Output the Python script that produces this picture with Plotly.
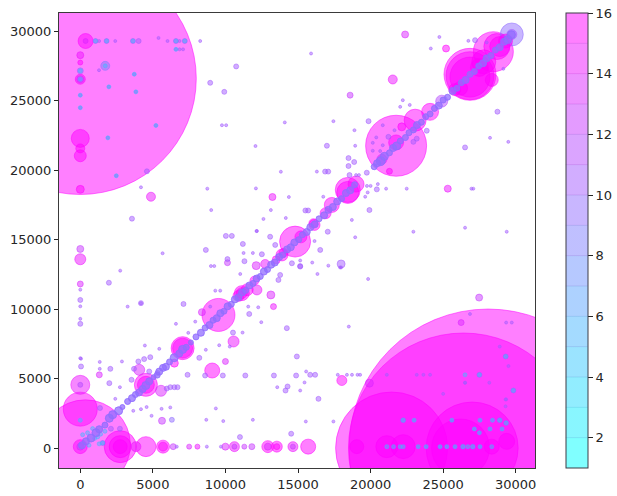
import plotly.graph_objects as go

# big bubbles, drawn first
big_x = [28100, 26400, 21450, 27000, 26200, 0, 350, 0]
big_y = [0, 0, 0, 0, 0, 26600, 230, 2800]
big_size = [278, 230, 112, 92, 58, 232, 90, 34]
big_value = [16, 16, 16, 16, 16, 16, 16, 16]

# medium bubbles
mid_x = [2750, 2750, 2750, 4520, 5700, 5700, 3830, 0, 0, 6400, 7500, 8070, 10000, 10620, 10620, 11820, 11300,
         12920, 12920, 13540, 13540, 14650, 14650, 15700, 19050, 21120, 22250, 28350, 29380,
         0, 0, 0, 0, 0, 9090, 18020, 10560, 10000, 10140, 12120, 12740, 13130, 13310, 12170, 11130, 11130,
         4520, 4520, 4060, 5560, 7050, 7050, 6480, 9520, 8380, 14800, 16140, 17330, 18430, 18430, 16060,
         21760, 21760, 21300, 20780, 23070, 24100, 24900, 22150, 26850, 26850, 26850, 26200, 27500,
         28350, 28460, 28700, 29730, 29730, 29300, 25320, 21530, 25200, 22380, 18590, 27480, 26240, 17970,
         365, 365, 0, 0, 0, 0, 0, 0, 0, 0, 0, 1720, 4870, 13240, 5630, 6310, 19920, 1310,
         13900, 15200, 16900, 19000, 25800, 27800, 28900, 11500, 10900, 12000, 13500, 14000]
mid_y = [100, 100, 100, 100, 100, 100, 100, 100, 100, 100, 100, 100, 100, 100, 100, 100, 100,
         100, 100, 100, 100, 100, 100, 100, 100, 100, 100, 100, 480,
         4550, 4550, 13590, 11810, 14330, 5580, 4860, 7670, 6230, 13340, 13130, 13250, 11020, 10180, 11380, 11150, 11150,
         4550, 4550, 5630, 4120, 7190, 7190, 6110, 9580, 9780, 14860, 16060, 17500, 18580, 18400, 16180,
         21760, 22000, 19920, 20780, 23600, 24200, 24970, 23120, 26900, 26800, 26700, 25900, 27400,
         26500, 28530, 28900, 29770, 29770, 29300, 18670, 26530, 28760, 29770, 25400, 10830, 9030, 13250,
         29300, 29300, 28280, 27750, 27150, 26550, 26550, 22290, 21570, 21040, 18620, 27510, 18090, 18070, 1960, 2030, 4670, 5270,
         13900, 15200, 16900, 19000, 25800, 27800, 28900, 11400, 10950, 12050, 13550, 14050]
mid_size = [32, 22, 14, 20, 13, 9, 10, 14, 7, 6, 5, 5, 7, 10, 5, 6, 5,
            12, 7, 11, 6, 10, 5, 15, 14, 22, 24, 15, 16,
            19, 5, 11, 6, 7, 15, 10, 11, 6, 6, 8, 9, 8, 6, 10, 15, 11,
            23, 17, 11, 11, 23, 20, 8, 33, 7, 31, 11, 15, 25, 22, 9,
            61, 15, 6, 10, 22, 17, 12, 8, 52, 48, 40, 14, 18,
            13, 40, 26, 23, 10, 14, 7, 9, 7, 7, 6, 7, 6, 8,
            15, 5, 7, 5, 6, 10, 7, 18, 9, 12, 8, 9, 9, 7, 7, 5, 8, 6,
            12, 12, 11, 16, 12, 24, 20, 12, 11, 9, 8, 9]
mid_value = [15, 16, 16, 15, 16, 15, 14, 16, 12, 12, 13, 14, 13, 14, 12, 12, 12,
             15, 13, 15, 15, 14, 12, 15, 16, 16, 16, 16, 16,
             14, 11, 14, 13, 12, 15, 15, 14, 13, 12, 13, 14, 13, 14, 14, 16, 15,
             16, 15, 13, 13, 16, 16, 16, 15, 13, 15, 16, 15, 16, 16, 15,
             15, 15, 15, 13, 15, 16, 11, 16, 16, 16, 16, 16, 16,
             15, 15, 16, 9, 10, 16, 14, 14, 15, 13, 12, 12, 13, 10,
             16, 13, 14, 15, 9, 16, 12, 16, 15, 15, 15, 8, 14, 14, 12, 9, 13, 13,
             16, 16, 16, 16, 16, 16, 16, 16, 16, 15, 15, 16]

# blue dots on the main diagonal, these sit on top
diag_x = [120, 390, 740, 1080, 1300, 1700, 2000, 2230, 2640, 2900, 3260, 3560, 3800, 4050, 4300, 4520, 4750,
          5050, 5300, 5440, 5700, 5900, 6150, 6470, 6820, 7050, 7300, 7620, 7970, 8310, 8600, 8900, 9150, 9400,
          9650, 9900, 10150, 10400, 10650, 10900, 11150, 11400, 11650, 11900, 12150, 12400, 12650, 12900, 13150,
          13400, 13700, 13950, 14250, 14500, 14750, 15050, 15300, 15600, 15850, 16150, 16450, 16800, 17100, 17400,
          17700, 18000, 18300, 18600, 18900, 20250, 20450, 20700, 20950, 21300, 21550, 21800, 22050, 22400, 22650,
          22950, 23200, 23500, 23800, 24100, 24400, 24700, 25000, 25300, 25650, 25950, 26250, 26550, 26850, 27150,
          27450, 27750, 28000, 28300, 28600, 28900, 29200, 29450, 29700]
diag_y = [200, 480, 720, 1100, 1350, 1650, 2150, 2400, 2680, 2950, 3350, 3590, 3850, 4000, 4250, 4500, 4800,
          5100, 5250, 5500, 5770, 5850, 6200, 6500, 6800, 7100, 7250, 7600, 8000, 8300, 8650, 8850, 9200, 9350,
          9700, 9850, 10200, 10350, 10700, 10850, 11200, 11350, 11700, 11850, 12200, 12350, 12700, 12850, 13200,
          13350, 13750, 13900, 14300, 14450, 14800, 15000, 15350, 15550, 15900, 16100, 16500, 16750, 17150, 17350,
          17750, 17950, 18350, 18550, 18950, 20250, 20500, 20650, 21000, 21250, 21600, 21750, 22100, 22350, 22700,
          22900, 23250, 23450, 23850, 24050, 24450, 24650, 25050, 25250, 25700, 25900, 26300, 26500, 26900, 27100,
          27500, 27700, 28050, 28250, 28650, 28850, 29250, 29400, 29750]
diag_size = [7, 7, 8, 8, 7, 6, 8, 8, 8, 5, 6, 7, 6, 7, 7, 8, 7,
             5, 6, 7, 7, 7, 6, 8, 7, 8, 6, 5, 6, 7, 6, 7, 6, 7,
             7, 6, 7, 6, 7, 7, 7, 6, 7, 6, 7, 6, 7, 6, 7,
             7, 7, 6, 7, 7, 7, 6, 6, 7, 7, 7, 6, 7, 7, 7,
             7, 6, 7, 7, 6, 6, 7, 9, 8, 6, 7, 8, 6, 6, 6,
             6, 7, 6, 6, 6, 6, 7, 6, 6, 7, 6, 6, 7, 6, 6,
             6, 7, 7, 6, 6, 7, 7, 8, 8]
diag_value = [9] * len(diag_x)

# off-diagonal scatter, small dots
small_x = [3530, 3700, 4000, 4400, 4820, 4750, 5320, 6200, 6480, 6700, 5960, 2000, 2070, 2110, 2730, 1540, 50, 8600,
           9820, 11370, 14870, 13340, 14280, 14140, 16180, 16410, 14920, 11000, 14530, 10520, 8200, 7110, 1970,
           11310, 10140, 12510, 13430, 13080, 13770, 13650, 15150, 14580, 11200, 10030, 10440, 8650, 17050, 16530,
           15510, 15700, 19920, 20430, 16870, 17080, 18480, 18870, 18480, 18550, 19740, 16990, 26510, 28740, 4590,
           3560, 10740, 8950, 9920, 27200, 6590, 1810, 3630, 4020, 7200, 1050, 22950, 23180, 23870, 19860, 21230,
           29840, 29310, 27500, 26370, 27040, 28900, 29340, 22250, 14230, 15150, 1360, 0, 0, 4180, 7390, 15840, 11640]
small_y = [4910, 5700, 6230, 6400, 6540, 5510, 5400, 4380, 4380, 4380, 4280, 4670, 5700, 1390, 1390, 360, 5870, 5220,
           5220, 5220, 5220, 5220, 4430, 4140, 5270, 3540, 6590, 790, 1030, 8310, 6490, 10370, 11900,
           13450, 13600, 13950, 14620, 15210, 12460, 12100, 13060, 13300, 14690, 15270, 15270, 14260, 15570, 14260,
           17100, 17100, 17130, 18620, 19900, 19900, 20870, 20590, 20300, 19650, 19820, 21760, 21640, 24210, 19920,
           16510, 27470, 26290, 25640, 29360, 29300, 29300, 29300, 29300, 29300, 29300, 22040, 22270, 22840, 23530, 22400,
           4140, 6590, 5270, 100, 100, 2000, 1800, 2000, 8630, 13100, 2880, 10660, 8940, 10430, 5270, 5270, 9650]

# faintest dots
tiny_x = [6650, 8720, 9690, 18370, 18720, 19100, 19280, 17740, 15450, 15540, 17440, 26850, 29340, 29730, 18500, 19830,
          17900, 17090, 16340, 15980, 10300, 9570, 8650, 11180, 15560, 13570, 15150, 9340, 8680, 9850, 11890, 1340,
          1340, 2870, 50, 2730, 2410, 3650, 4180, 4570, 4910, 5600, 6200, 5440, 4450, 7440, 3260, 4180, 2750, 5670,
          6590, 0, 0, 0, 0, 7920, 8950, 11570, 12260, 12470, 9300, 9640, 9000, 9230, 11020, 11250, 11890, 12140,
          16140, 18710, 18940, 22950, 26510, 29380, 19750, 20000, 20500, 19800, 19630, 21070, 22490, 27080, 26950,
          16740, 16300, 19000, 19200, 18940, 18890, 17440, 15900, 22040, 22220, 28230, 29490, 24740, 24150, 26740,
          20840, 20390, 20150, 20840, 20660, 20150, 21650, 22700, 0, 0, 2480, 4180, 8750, 9020, 12100, 14370, 13130,
          12620, 14160, 12170, 13820, 14090, 12070, 9760, 10050, 5210, 1900, 3830, 1970, 3720, 1290, 5390, 6010, 6840,
          7080, 6840, 6590, 2410, 1300, 8260, 21120, 23180, 23640, 24100, 26510, 23280, 23830, 24790, 25250, 25820,
          27540, 23000, 25600, 27540, 28400, 29340, 27150, 27500, 28230, 29060, 28900, 29500, 26510, 28180, 25000,
          29300, 29300, 17970, 15150, 28000, 29150]
tiny_y = [100, 100, 100, 5270, 5270, 5270, 5270, 5270, 4720, 1910, 1910, 9650, 9030, 9030, 8740, 12170,
          13000, 13130, 12530, 13350, 7300, 7400, 7070, 8310, 5510, 4380, 4140, 2850, 2030, 1940, 2030, 5700,
          6200, 6230, 6430, 4380, 3540, 2680, 2800, 2950, 2320, 2820, 2920, 7140, 7380, 8290, 10180, 10430, 12770, 14020,
          8940, 11400, 10200, 9300, 6470, 9100, 10180, 10180, 10130, 9060, 11330, 11330, 13100, 13100, 12530, 14040, 14040, 15620,
          14900, 16420, 15170, 15570, 15860, 15570, 18870, 18870, 19000, 18400, 18090, 18670, 18670, 18670, 18670,
          18090, 19900, 19650, 19650, 21760, 22880, 23530, 28400, 24560, 25040, 22330, 22040, 29590, 28760, 29310,
          23240, 22360, 21970, 21800, 21380, 21400, 22880, 24700, 25400, 24500, 19600, 18770, 18670, 17130, 18690, 18070, 17130,
          16490, 16560, 15620, 19890, 23440, 21740, 23240, 23240, 23220, 22330, 25640, 26000, 26910, 27200, 29520, 29300, 29300,
          28700, 28700, 28700, 29300, 29300, 29300, 5270, 5270, 5270, 5270, 4700, 100, 100, 100, 100, 100,
          100, 2000, 2000, 2000, 2000, 3500, 1370, 1100, 1370, 1370, 7300, 5900, 4700, 4700, 3900,
          3000, 3500, 13000, 13500, 29200, 27300]

# dots that show up blue on top of the magenta bubbles
inner_x = [21120, 21580, 22040, 22250, 23280, 23830, 24790, 25250, 25820, 26370, 26700, 27040, 27540, 28350,
           22250, 23000, 25600, 27540, 28400, 28900, 29340, 27150, 27500, 28230, 29060,
           26510, 27500, 29310, 29840,
           1050, 1810, 3630, 6590, 7200, 1720, 6590, 3720, 1970, 3830, 1900, 5210, 2480,
           0, 0, 0, 0,
           160, 500, 850, 1300, 1540, 600, 1000, 1400, 1200, 1700, 0]
inner_y = [100, 100, 100, 100, 100, 100, 100, 100, 100, 100, 100, 100, 100, 100,
           2000, 2000, 2000, 2000, 2000, 2000, 1800, 1370, 1100, 1370, 1370,
           5270, 5270, 6590, 4140,
           29300, 29300, 29300, 29300, 29300, 27510, 28700, 26910, 26000, 25640, 22330, 23220, 19600,
           27150, 26550, 25400, 24500,
           960, 1100, 1400, 300, 360, 200, 700, 1000, 800, 1200, 2000]

color_levels = list(range(2, 17, 2))

assert len(mid_x) == len(mid_y) == len(mid_size) == len(mid_value)
assert len(small_x) == len(small_y) and len(tiny_x) == len(tiny_y)
assert len(diag_x) == len(diag_y) == len(diag_size)
assert len(inner_x) == len(inner_y)


def band_colorscale():
    # 15 flat bands running from cyan to magenta, half transparent
    scale = []
    for k in range(15):
        t = k / 14
        col = f"rgba({round(255 * t)},{round(255 * (1 - t))},255,0.5)"
        scale.append([k / 15, col])
        scale.append([(k + 1) / 15, col])
    return scale


# the diagonal goes in twice, the dots pile up there in the original
xs = big_x + mid_x + small_x + tiny_x + inner_x + diag_x + diag_x
ys = big_y + mid_y + small_y + tiny_y + inner_y + diag_y + diag_y
sizes = big_size + mid_size + [5] * len(small_x) + [3] * len(tiny_x) + [4] * len(inner_x) + diag_size + diag_size
values = big_value + mid_value + [10] * len(small_x) + [10] * len(tiny_x) + [5] * len(inner_x) + diag_value + diag_value

scale = band_colorscale()
W, H = 617, 496
plot_bottom = 28 / H
plot_top = 483 / H
cb_left = 565.7 / W
cb_right = 587.7 / W

fig = go.Figure()
fig.add_trace(go.Scatter(
    x=xs, y=ys, mode='markers', hoverinfo='skip',
    marker=dict(
        size=sizes, sizemode='diameter', sizeref=1, opacity=1,
        color=values, colorscale=scale, cmin=1, cmax=16,
        line=dict(width=1, color=values, colorscale=scale, cmin=1, cmax=16),
        colorbar=dict(
            x=cb_left, xanchor='left', xpad=0, y=plot_bottom, yanchor='bottom', ypad=0,
            len=plot_top - plot_bottom,
            thickness=22, outlinecolor='#3c3c46', outlinewidth=1,
            tickmode='array', tickvals=color_levels, ticks='outside', ticklen=5,
            tickcolor='#262626', tickfont=dict(size=13, color='#262626'),
        ),
    ),
))

# thin lines between the colorbar bands
shapes = []
for v in range(2, 16):
    level = plot_bottom + (v - 1) / 15 * (plot_top - plot_bottom)
    shapes.append(dict(type='line', xref='paper', yref='paper', x0=cb_left, x1=cb_right, y0=level, y1=level,
                       line=dict(color='rgba(110,70,150,0.22)', width=1)))

axis_style = dict(showgrid=False, zeroline=False, showline=True, mirror=True, linecolor='#3a3a3a', linewidth=1.3,
                  ticks='outside', ticklen=4, tickcolor='#262626', tickfont=dict(size=13, color='#262626'))

fig.update_layout(
    width=W, height=H,
    margin=dict(l=0, r=0, t=0, b=0),
    paper_bgcolor='white', plot_bgcolor='white',
    font=dict(family='DejaVu Sans'),
    showlegend=False,
    shapes=shapes,
    xaxis=dict(domain=[59 / W, 535.3 / W], range=[-1467, 31350],
               tickvals=[0, 5000, 10000, 15000, 20000, 25000, 30000], tickformat='d', **axis_style),
    yaxis=dict(domain=[plot_bottom, plot_top], range=[-1438, 31316],
               tickvals=[0, 5000, 10000, 15000, 20000, 25000, 30000], tickformat='d', **axis_style),
)

fig.write_html("out.html", post_script="document.body.style.margin='0';", config={'displayModeBar': False})
